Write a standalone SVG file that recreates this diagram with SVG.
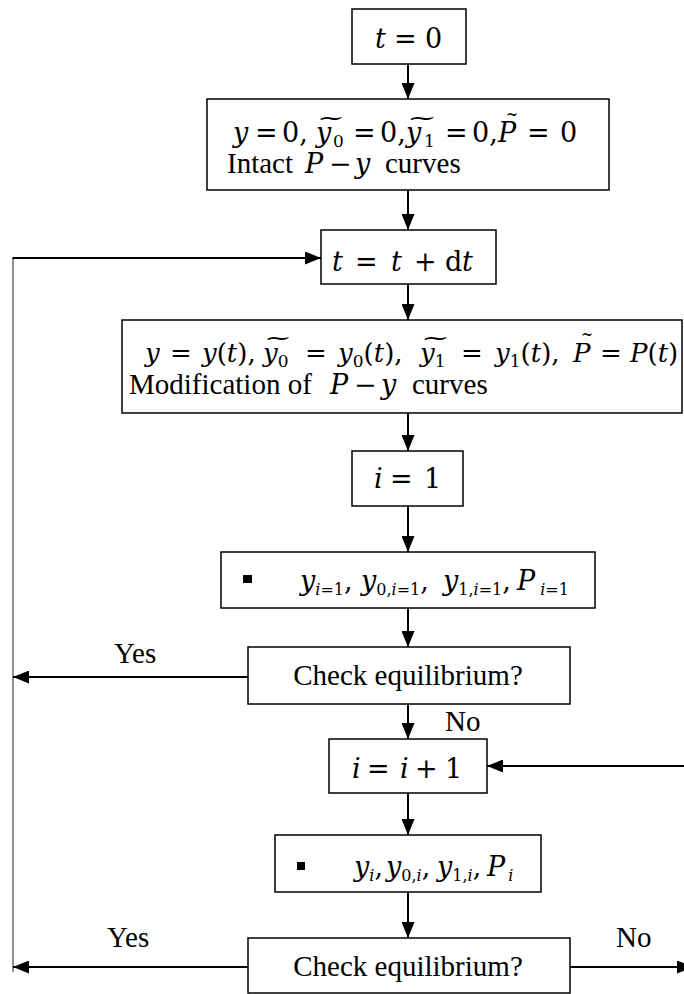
<svg xmlns="http://www.w3.org/2000/svg" width="684" height="994" viewBox="0 0 684 994">
<defs>
<style>
.box{fill:#fff;stroke:#000;stroke-width:1.5}
.w{font-family:"Liberation Serif","Times New Roman",serif;font-size:29px;fill:#000}
.m{font-family:"DejaVu Serif",serif;font-size:27px;fill:#000}
.m26{font-size:26px}
.mi{font-style:italic}
.sub{font-size:17px}
.sb{font-size:16px}
.tl{font-size:23px}
.tp{font-size:18px}
.conn line{stroke:#000;stroke-width:2;fill:none}
.conn .thin{stroke:#444;stroke-width:1.2}
</style>
<marker id="ah" markerUnits="userSpaceOnUse" markerWidth="16" markerHeight="13" refX="16" refY="6.5" orient="auto">
<path d="M0,0 L16,6.5 L0,13 z" fill="#000"/>
</marker>
</defs>
<rect width="684" height="994" fill="#fff"/>

<g class="conn" id="connectors">
<line x1="408" y1="64" x2="408" y2="99" marker-end="url(#ah)"/>
<line x1="408" y1="190" x2="408" y2="230" marker-end="url(#ah)"/>
<line x1="408" y1="284" x2="408" y2="320" marker-end="url(#ah)"/>
<line x1="408" y1="413" x2="408" y2="451" marker-end="url(#ah)"/>
<line x1="408" y1="506" x2="408" y2="552" marker-end="url(#ah)"/>
<line x1="408" y1="608" x2="408" y2="647" marker-end="url(#ah)"/>
<line x1="408" y1="704" x2="408" y2="739" marker-end="url(#ah)"/>
<line x1="408" y1="793" x2="408" y2="835" marker-end="url(#ah)"/>
<line x1="408" y1="892" x2="408" y2="938" marker-end="url(#ah)"/>
<line class="thin" x1="13" y1="258" x2="13" y2="972"/>
<line x1="12.5" y1="258" x2="321" y2="258" marker-end="url(#ah)"/>
<line x1="248" y1="677" x2="13" y2="677" marker-end="url(#ah)"/>
<line x1="248" y1="967" x2="13" y2="967" marker-end="url(#ah)"/>
<line x1="570" y1="967" x2="693" y2="967" marker-end="url(#ah)"/>
<line x1="700" y1="766" x2="487" y2="766" marker-end="url(#ah)"/>
</g>

<g id="n-t0">
<rect class="box" x="352" y="9" width="114" height="55"/>
<text class="m"><tspan class="mi" x="375" y="48">t</tspan><tspan x="394" y="48">=</tspan><tspan x="425" y="48">0</tspan></text>
</g>

<g id="n-init">
<rect class="box" x="207" y="99" width="402" height="91"/>
<text class="m"><tspan class="mi" x="233" y="142">y</tspan><tspan x="255" y="142">=</tspan><tspan x="282" y="142">0,</tspan><tspan class="mi" x="316" y="142">y</tspan><tspan class="sub" x="333" y="147">0</tspan><tspan x="353" y="142">=</tspan><tspan x="380" y="142">0,</tspan><tspan class="mi" x="406" y="142">y</tspan><tspan class="sub" x="424" y="147">1</tspan><tspan x="445" y="142">=</tspan><tspan x="472" y="142">0,</tspan><tspan class="mi" x="498" y="142">P</tspan><tspan x="527" y="142">=</tspan><tspan x="560" y="142">0</tspan><tspan class="tl" x="317" y="125" textLength="28" lengthAdjust="spacingAndGlyphs">~</tspan><tspan class="tl" x="407" y="125" textLength="30" lengthAdjust="spacingAndGlyphs">~</tspan><tspan class="tp" x="506" y="120" textLength="12" lengthAdjust="spacingAndGlyphs">~</tspan></text>
<text class="w" x="227" y="173">Intact</text>
<text class="m"><tspan class="mi" x="305" y="173">P</tspan><tspan x="329" y="173">−</tspan><tspan class="mi" x="355" y="173">y</tspan></text>
<text class="w" x="385" y="173">curves</text>
</g>

<g id="n-tdt">
<rect class="box" x="321" y="230" width="175" height="54"/>
<text class="m"><tspan class="mi" x="332" y="271">t</tspan><tspan x="355" y="271">=</tspan><tspan class="mi" x="391" y="271">t</tspan><tspan x="414" y="271">+</tspan><tspan x="445" y="271">d</tspan><tspan class="mi" x="462" y="271">t</tspan></text>
</g>

<g id="n-update">
<rect class="box" x="122" y="320" width="560" height="93"/>
<text class="m m26"><tspan class="mi" x="145" y="362">y</tspan><tspan x="170" y="362">=</tspan><tspan class="mi" x="202" y="362">y</tspan><tspan>(</tspan><tspan class="mi">t</tspan><tspan>),</tspan><tspan class="mi" x="263" y="362">y</tspan><tspan class="sub" dy="5">0</tspan><tspan x="305" y="362">=</tspan><tspan class="mi" x="338" y="362">y</tspan><tspan class="sub" dy="5">0</tspan><tspan dy="-5">(</tspan><tspan class="mi">t</tspan><tspan>),</tspan><tspan class="mi" x="420" y="362">y</tspan><tspan class="sub" dy="5">1</tspan><tspan x="461" y="362">=</tspan><tspan class="mi" x="495" y="362">y</tspan><tspan class="sub" dy="5">1</tspan><tspan dy="-5">(</tspan><tspan class="mi">t</tspan><tspan>),</tspan><tspan class="mi" x="573" y="362">P</tspan><tspan x="600" y="362">=</tspan><tspan class="mi" x="630" y="362">P</tspan><tspan>(</tspan><tspan class="mi">t</tspan><tspan>)</tspan><tspan class="tl" x="264" y="345" textLength="28" lengthAdjust="spacingAndGlyphs">~</tspan><tspan class="tl" x="421" y="345" textLength="29" lengthAdjust="spacingAndGlyphs">~</tspan><tspan class="tp" x="581" y="340" textLength="12" lengthAdjust="spacingAndGlyphs">~</tspan></text>
<text class="w" x="129" y="394">Modification of</text>
<text class="m"><tspan class="mi" x="330" y="394">P</tspan><tspan x="354" y="394">−</tspan><tspan class="mi" x="381" y="394">y</tspan></text>
<text class="w" x="412" y="394">curves</text>
</g>

<g id="n-i1">
<rect class="box" x="352" y="451" width="111" height="55"/>
<text class="m"><tspan class="mi" x="374" y="488">i</tspan><tspan x="390" y="488">=</tspan><tspan x="424" y="488">1</tspan></text>
</g>

<g id="n-vals1">
<rect class="box" x="221" y="552" width="374" height="56"/>
<rect x="243" y="575" width="9" height="8" fill="#000"/>
<text class="m"><tspan class="mi" x="300" y="590">y</tspan><tspan class="sb mi" dy="5">i</tspan><tspan class="sb">=1</tspan><tspan dy="-5">,</tspan><tspan class="mi" x="361" y="590">y</tspan><tspan class="sb" dy="5">0,</tspan><tspan class="sb mi">i</tspan><tspan class="sb">=1</tspan><tspan dy="-5">,</tspan><tspan class="mi" x="443" y="590">y</tspan><tspan class="sb" dy="5">1,</tspan><tspan class="sb mi">i</tspan><tspan class="sb">=1</tspan><tspan dy="-5">,</tspan><tspan class="mi" x="517" y="590">P</tspan><tspan class="sb mi" dx="5" dy="5">i</tspan><tspan class="sb">=1</tspan></text>
</g>

<g id="n-check1">
<rect class="box" x="248" y="647" width="322" height="57"/>
<text class="w" x="408" y="685" text-anchor="middle">Check equilibrium?</text>
</g>

<g id="n-inc">
<rect class="box" x="329" y="739" width="158" height="54"/>
<text class="m"><tspan class="mi" x="352" y="778">i</tspan><tspan x="367" y="778">=</tspan><tspan class="mi" x="400" y="778">i</tspan><tspan x="415" y="778">+</tspan><tspan x="445" y="778">1</tspan></text>
</g>

<g id="n-vals">
<rect class="box" x="275" y="835" width="266" height="57"/>
<rect x="297" y="862" width="8" height="8" fill="#000"/>
<text class="m"><tspan class="mi" x="354" y="876">y</tspan><tspan class="sb mi" dy="5">i</tspan><tspan dy="-5">,</tspan><tspan class="mi" x="386" y="876">y</tspan><tspan class="sb" dy="5">0,</tspan><tspan class="sb mi">i</tspan><tspan dy="-5">,</tspan><tspan class="mi" x="437" y="876">y</tspan><tspan class="sb" dy="5">1,</tspan><tspan class="sb mi">i</tspan><tspan dy="-5">,</tspan><tspan class="mi" x="487" y="876">P</tspan><tspan class="sb mi" dx="3" dy="5">i</tspan></text>
</g>

<g id="n-check2">
<rect class="box" x="248" y="938" width="322" height="55"/>
<text class="w" x="408" y="976" text-anchor="middle">Check equilibrium?</text>
</g>

<g id="labels">
<text class="w" x="114" y="663">Yes</text>
<text class="w" x="445" y="731">No</text>
<text class="w" x="107" y="947">Yes</text>
<text class="w" x="616" y="947">No</text>
</g>
</svg>
